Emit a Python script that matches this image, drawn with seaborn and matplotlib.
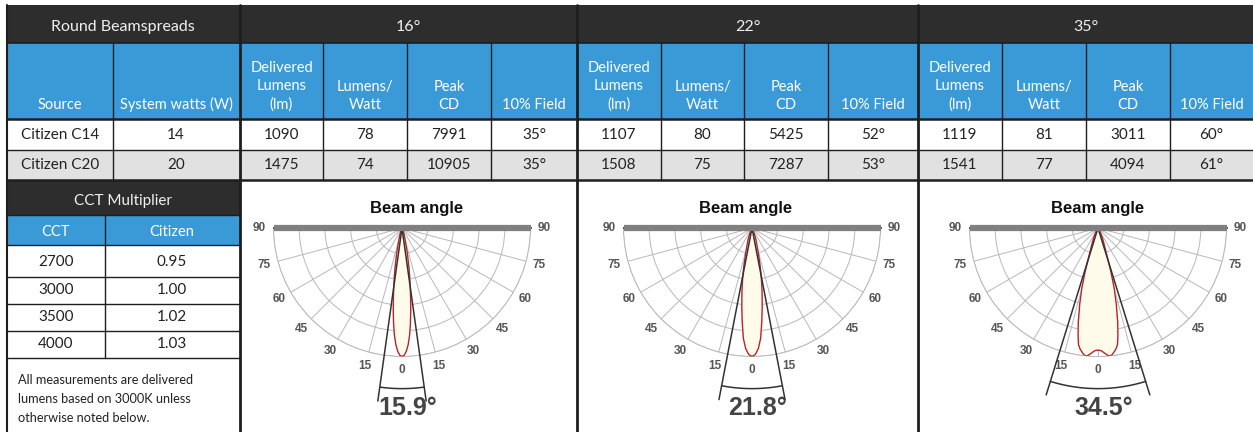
"""Round beamspread table with polar beam-angle diagrams."""

import matplotlib
matplotlib.use("Agg")
import matplotlib.pyplot as plt
from matplotlib.patches import Rectangle
import numpy as np
import seaborn as sns

sns.set_theme(style="white")
plt.rcParams["font.family"] = ["Lato", "DejaVu Sans"]

# ---- data -------------------------------------------------------------
beam_groups = ["16°", "22°", "35°"]
sources = ["Citizen C14", "Citizen C20"]
system_watts = [14, 20]
delivered_lm = [[1090, 1107, 1119], [1475, 1508, 1541]]
lm_per_watt = [[78, 80, 81], [74, 75, 77]]
peak_cd = [[7991, 5425, 3011], [10905, 7287, 4094]]
field_10 = [[35, 52, 60], [35, 53, 61]]
sub_headers = ["Delivered\nLumens\n(lm)", "Lumens/\nWatt", "Peak\nCD", "10% Field"]

cct = [2700, 3000, 3500, 4000]
cct_mult = [0.95, 1.00, 1.02, 1.03]
note = "All measurements are delivered\nlumens based on 3000K unless\notherwise noted below."

beam_angle = [15.9, 21.8, 34.5]
# relative intensity vs. angle from nadir (one half, symmetric)
curve16_deg = [0, 1, 2, 3, 4, 5, 6, 7, 8, 9, 10, 12, 14, 16, 18, 22, 30]
curve16_rel = [1.0, 0.99, 0.96, 0.91, 0.84, 0.75, 0.65, 0.55, 0.46, 0.38, 0.31,
               0.20, 0.12, 0.075, 0.05, 0.02, 0.0]
curve22_deg = [0, 1.5, 3, 4.5, 6, 7.5, 9, 10.5, 12, 14, 16, 19, 22, 27, 35]
curve22_rel = [1.0, 0.985, 0.94, 0.86, 0.73, 0.61, 0.50, 0.40, 0.31, 0.21, 0.14,
               0.09, 0.05, 0.02, 0.0]
curve35_deg = [0, 1.5, 3, 4.5, 5.5, 6.5, 7.5, 8.5, 9.5, 10.5, 11.8, 13.5, 15,
               16.5, 17.7, 20, 23.5, 27, 32, 40]
curve35_rel = [0.95, 0.955, 0.975, 0.995, 1.0, 0.99, 0.97, 0.95, 0.92, 0.85, 0.75,
               0.61, 0.49, 0.35, 0.24, 0.15, 0.09, 0.05, 0.02, 0.0]
curves = [(curve16_deg, curve16_rel), (curve22_deg, curve22_rel),
          (curve35_deg, curve35_rel)]
polar_ticks = list(range(-90, 91, 15))

# ---- layout / style ---------------------------------------------------
W, H = 1253, 432
DARK = "#2d2d2d"
BLUE = "#3a9ad8"
ROW_GRAY = "#e1e1e1"
LINE = "#1e1e1e"
TXT = "#222222"
group_cols = [[240, 323, 407, 491, 577],
              [577, 661, 744, 828, 918],
              [918, 1002, 1086, 1170, W]]
polar_cx = [402, 752, 1098]
title_x = [417, 746, 1098]
polar_cy = 228
R = 128.5

fig = plt.figure(figsize=(W / 100, H / 100), dpi=100)
ax = fig.add_axes([0, 0, 1, 1])
ax.set_xlim(0, W)
ax.set_ylim(H, 0)
ax.axis("off")

# backgrounds
ax.add_patch(Rectangle((7, 5), W - 7, 38, color=DARK, lw=0))
ax.add_patch(Rectangle((7, 43), W - 7, 76, color=BLUE, lw=0))
ax.add_patch(Rectangle((7, 150), W - 7, 30, color=ROW_GRAY, lw=0))
ax.add_patch(Rectangle((7, 180), 233, 35, color=DARK, lw=0))
ax.add_patch(Rectangle((7, 215), 233, 30, color=BLUE, lw=0))

# grid lines
for y, lw in [(43, 1.2), (119, 1.8), (150, 1.0), (180, 1.8)]:
    ax.plot([7, W], [y, y], color=LINE, lw=lw)
inner_x = [113] + [x for g in group_cols for x in g[1:-1]]
for x in inner_x:
    ax.plot([x, x], [43, 180], color=LINE, lw=1.0)
for x in [240, 577, 918]:
    ax.plot([x, x], [5, H], color=LINE, lw=2.0)
ax.plot([7, 7], [5, H], color=LINE, lw=1.5)
for y in [215, 245, 277, 304, 331, 358]:
    ax.plot([7, 240], [y, y], color=LINE, lw=1.0)
ax.plot([105, 105], [215, 358], color=LINE, lw=1.0)

# header text
ax.text(123, 27, "Round Beamspreads", ha="center", va="center",
        color="#f0f0f0", fontsize=11.5)
for g, label in zip(group_cols, beam_groups):
    ax.text((g[0] + g[-1]) / 2, 27, label, ha="center", va="center",
            color="#f0f0f0", fontsize=11.5)
hdr_kw = dict(ha="center", va="bottom", color="white", fontsize=10.5, linespacing=1.38)
ax.text(60, 112, "Source", **hdr_kw)
ax.text(176, 112, "System watts (W)", **hdr_kw)
for g in group_cols:
    for i, lab in enumerate(sub_headers):
        ax.text((g[i] + g[i + 1]) / 2, 112, lab, **hdr_kw)

# data rows
cell_kw = dict(ha="center", va="center", color=TXT, fontsize=11)
for r, yc in enumerate([135, 165]):
    ax.text(60, yc, sources[r], **cell_kw)
    ax.text(176, yc, str(system_watts[r]), **cell_kw)
    for k, g in enumerate(group_cols):
        vals = [delivered_lm[r][k], lm_per_watt[r][k], peak_cd[r][k],
                f"{field_10[r][k]}°"]
        for i, v in enumerate(vals):
            ax.text((g[i] + g[i + 1]) / 2, yc, str(v), **cell_kw)

# CCT multiplier table
ax.text(123, 201, "CCT Multiplier", ha="center", va="center",
        color="#f0f0f0", fontsize=11)
ax.text(56, 232, "CCT", ha="center", va="center", color="white", fontsize=10.5)
ax.text(172, 232, "Citizen", ha="center", va="center", color="white", fontsize=10.5)
for yc, c, m in zip([262, 290, 317, 344], cct, cct_mult):
    ax.text(56, yc, str(c), **cell_kw)
    ax.text(172, yc, f"{m:.2f}", **cell_kw)
ax.text(18, 374, note, ha="left", va="top", color=TXT, fontsize=9.2,
        linespacing=1.7)

# polar beam diagrams
for k in range(3):
    cx = polar_cx[k]
    # square box; the half-disc wedge is centred vertically inside it
    pax = fig.add_axes([(cx - R) / W, (H - (polar_cy + 1.5 * R)) / H,
                        2 * R / W, 2 * R / H], projection="polar")
    pax.set_theta_zero_location("S")
    pax.set_thetamin(-90)
    pax.set_thetamax(90)
    pax.set_ylim(0, 1)
    pax.set_yticks([0.2, 0.4, 0.6, 0.8, 1.0])
    pax.set_yticklabels([])
    pax.set_thetagrids(polar_ticks, labels=[str(abs(a)) for a in polar_ticks])
    pax.tick_params(axis="x", labelsize=8.5, labelcolor="#555555", pad=-3)
    for lbl in pax.get_xticklabels():
        lbl.set_fontweight("bold")
        lbl.set_family(["Liberation Sans", "DejaVu Sans"])
    pax.grid(True, color="#b8b8b8", lw=0.7)
    pax.set_facecolor("white")
    pax.spines["polar"].set_color("#b8b8b8")
    pax.spines["polar"].set_linewidth(0.7)
    for s in ["inner", "start", "end"]:
        pax.spines[s].set_visible(False)
    for s in (-1, 1):
        pax.plot([s * np.pi / 2, s * np.pi / 2], [0, 1], color="#808080",
                 lw=4.5, solid_capstyle="butt", clip_on=False, zorder=5)

    deg, rel = curves[k]
    theta = np.deg2rad(np.concatenate([-np.array(deg[::-1]), np.array(deg[1:])]))
    rr = np.concatenate([np.array(rel[::-1]), np.array(rel[1:])])
    pax.fill(theta, rr, color="#fffbea", zorder=2)
    sns.lineplot(x=theta, y=rr, sort=False, estimator=None, ax=pax,
                 color="#b3262c", lw=1.0, zorder=3)

    half = np.deg2rad(beam_angle[k] / 2)
    for s in (-1, 1):
        pax.plot([s * half, s * half], [0, 1.36], color="#333333", lw=1.1,
                 clip_on=False, zorder=4)
    arc = np.linspace(-half, half, 40)
    pax.plot(arc, np.full_like(arc, 1.25), color="#333333", lw=1.1,
             clip_on=False, zorder=4)
    pax.annotate(f"{beam_angle[k]}°", xy=(0, 1.40), xytext=(4, 0),
                 textcoords="offset points", ha="center", va="center",
                 fontsize=18, fontweight="bold", color="#444444",
                 family=["Liberation Sans", "DejaVu Sans"], annotation_clip=False)
    pax.set_xlabel("")
    pax.set_ylabel("")
    ax.text(title_x[k], 208, "Beam angle", ha="center", va="center",
            fontsize=12, fontweight="bold", color="#111111",
            family=["Liberation Sans", "DejaVu Sans"])

fig.savefig("out.png", dpi=100)
